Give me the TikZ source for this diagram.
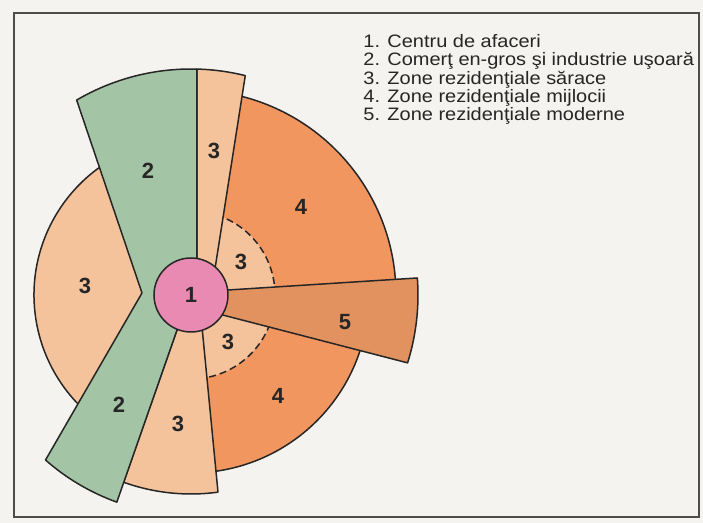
\documentclass[tikz,border=0pt]{standalone}
\usepackage{fontspec}
\setmainfont{Liberation Sans}
\newfontfamily\legendfont[FakeStretch=1.11]{Liberation Sans}
\definecolor{paper}{RGB}{245,243,239}
\definecolor{zgreen}{RGB}{164,196,166}
\definecolor{zpoor}{RGB}{245,195,155}
\definecolor{zmid}{RGB}{242,150,96}
\definecolor{zmod}{RGB}{226,146,94}
\definecolor{zcbd}{RGB}{232,138,178}

\begin{document}
\begin{tikzpicture}[x=0.5pt, y=0.5pt,
   zone/.style={draw=black!85, line width=0.75pt, line join=round},
   num/.style={font=\fontsize{11}{12}\selectfont\bfseries, text=black!85},
   ring/.style={draw=black!85, line width=0.75pt, dash pattern=on 3.5pt off 2pt}]
   \useasboundingbox[fill=paper] (-191,-228) rectangle (512,295);
   \draw[black!70, line width=0.6pt] (-177,-222) rectangle (508,282);

   \filldraw[zone, fill=zpoor] (0,0) -- (100:157) arc[start angle=100, end angle=240, radius=157] -- cycle;
   \filldraw[zone, fill=zmid] (0,0) -- (0:205) arc[start angle=0, end angle=78, radius=205] -- cycle;
   \filldraw[zone, fill=zmid] (0,0) -- (275:178) arc[start angle=275, end angle=345, radius=178] -- cycle;
   \fill[zpoor] (0,0) -- (0:84) arc[start angle=0, end angle=78, radius=84] -- cycle;
   \fill[zpoor] (0,0) -- (275:84) arc[start angle=275, end angle=345, radius=84] -- cycle;
   \draw[ring] (0:84) arc[start angle=0, end angle=78, radius=84];
   \draw[ring] (275:84) arc[start angle=275, end angle=345, radius=84];
   \filldraw[zone, fill=zmod] (0,0) -- (37,5) -- (4.3:227) arc[start angle=4.3, end angle=-17.4, radius=227] -- (-32.5:37) -- cycle;
   \filldraw[zone, fill=zpoor] (0,0) -- (6,0) -- (88.5:226) arc[start angle=88.5, end angle=76.1, radius=226] -- (49:37) -- cycle;
   \filldraw[zone, fill=zpoor] (0,0) -- (-14,-35) -- (250.2:199) arc[start angle=250.2, end angle=277.8, radius=199] -- (11.5,-37) -- cycle;
   \filldraw[zone, fill=zgreen] (0,0) -- (6,0) -- (88.5:226) arc[start angle=88.5, end angle=120.4, radius=226] -- (-49,2)
      -- (228.6:220) arc[start angle=228.6, end angle=250.3, radius=220] -- (-14,-35) -- cycle;
   \filldraw[zone, fill=zcbd] (0,0) circle[radius=37];

   \node[num] (c1) at (0,0) {1};
   \node[num] (g2a) at (-43,124) {2};
   \node[num] (g2b) at (-72,-110) {2};
   \node[num] (p3a) at (23,144) {3};
   \node[num] (p3b) at (-13,-129) {3};
   \node[num] (p3c) at (-106,9) {3};
   \node[num] (p3d) at (50,33) {3};
   \node[num] (p3e) at (37,-47) {3};
   \node[num] (m4a) at (110,88) {4};
   \node[num] (m4b) at (87,-101) {4};
   \node[num] (n5) at (154,-27) {5};

   \node[anchor=north west, align=left, inner sep=0pt, text=black!85,
      font={\legendfont\fontsize{9}{9.15}\selectfont\lineskiplimit=-100pt}] (legend) at (172,261)
      {1. Centru de afaceri\\
       2. Comerţ en-gros şi industrie uşoară\\
       3. Zone rezidenţiale sărace\\
       4. Zone rezidenţiale mijlocii\\
       5. Zone rezidenţiale moderne};
\end{tikzpicture}
\end{document}
